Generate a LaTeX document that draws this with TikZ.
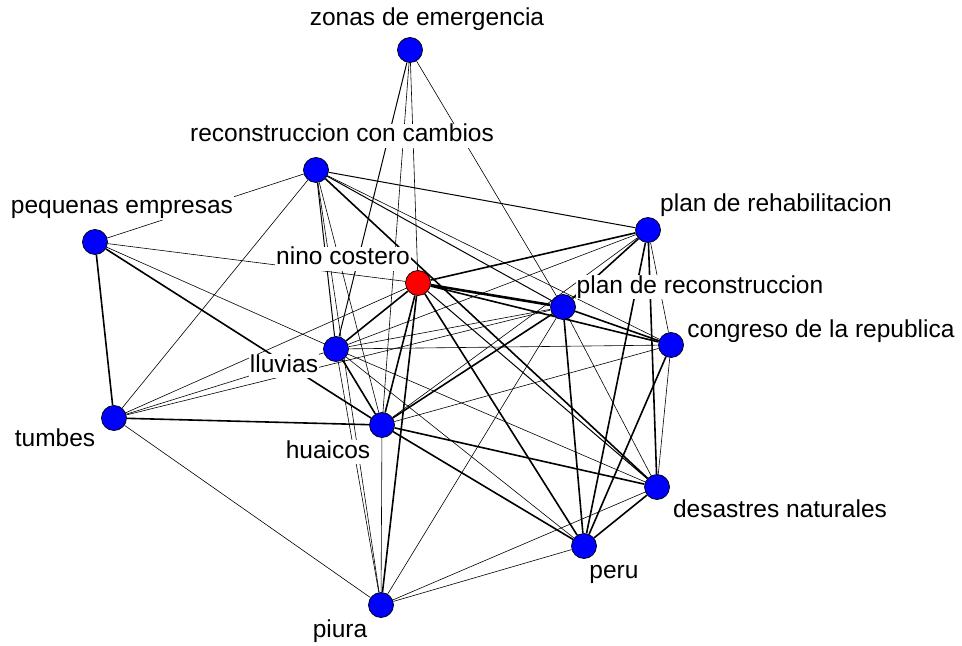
\documentclass[tikz,border=0pt]{standalone}
\usepackage{fontspec}
\setmainfont{Liberation Sans}
\pgfdeclarelayer{edges}
\pgfdeclarelayer{labels}
\pgfsetlayers{edges,labels,main}
\begin{document}
\begin{tikzpicture}[x=1bp,y=-1bp,
  vert/.style={circle,fill=blue,draw=black,line width=0.7bp,minimum size=25bp,inner sep=0pt},
  redvert/.style={vert,fill=red},
  lab/.style={fill=white,inner sep=1bp,text height=17bp,text depth=5bp,font=\fontsize{24.6}{28}\selectfont},
  wa/.style={line width=0.6bp},
  wb/.style={line width=1.0bp},
  wc/.style={line width=1.6bp},
  wd/.style={line width=2.6bp}]
\useasboundingbox (0,0) rectangle (962,646);
% vertices
\node[vert] (Z) at (410,50) {};
\node[vert] (R) at (316,170) {};
\node[vert] (E) at (95,242) {};
\node[vert] (H) at (648,230) {};
\node[redvert] (N) at (418,283) {};
\node[vert] (P) at (563,307) {};
\node[vert] (C) at (671,345) {};
\node[vert] (L) at (336,349) {};
\node[vert] (T) at (114,418) {};
\node[vert] (U) at (382,425) {};
\node[vert] (D) at (657,487) {};
\node[vert] (Pe) at (584,546) {};
\node[vert] (Pi) at (381,605) {};
% labels
\begin{pgfonlayer}{labels}
\node[lab] (lZ) at (427,20) {zonas de emergencia};
\node[lab] (lR) at (342,136) {reconstruccion con cambios};
\node[lab] (lE) at (122,208) {pequenas empresas};
\node[lab] (lH) at (776,206) {plan de rehabilitacion};
\node[lab] (lN) at (343,259) {nino costero};
\node[lab] (lP) at (700,287) {plan de reconstruccion};
\node[lab] (lC) at (821,331) {congreso de la republica};
\node[lab] (lL) at (284,366) {lluvias};
\node[lab] (lT) at (55,440) {tumbes};
\node[lab] (lU) at (328,452) {huaicos};
\node[lab] (lD) at (780,511) {desastres naturales};
\node[lab] (lPe) at (614,572) {peru};
\node[lab] (lPi) at (340,631) {piura};
\end{pgfonlayer}
% edges
\begin{pgfonlayer}{edges}
\fill[white] (0,0) rectangle (962,646);
\draw[wa] (Z) -- (N);
\draw[wb] (Z) -- (L);
\draw[wa] (Z) -- (U);
\draw[wa] (Z) -- (P);
\draw[wa] (R) -- (E);
\draw[wa] (R) -- (T);
\draw[wb] (R) -- (L);
\draw[wa] (R) -- (U);
\draw[wa] (R) -- (Pi);
\draw[wb] (R) -- (H);
\draw[wb] (R) -- (P);
\draw[wa] (R) -- (C);
\draw[wc] (R) -- (D);
\draw[wc] (E) -- (T);
\draw[wa] (E) -- (N);
\draw[wc] (E) -- (U);
\draw[wa] (E) -- (L);
\draw[wa] (T) -- (N);
\draw[wa] (T) -- (L);
\draw[wc] (T) -- (U);
\draw[wa] (T) -- (Pi);
\draw[wa] (T) -- (P);
\draw[wc] (N) -- (L);
\draw[wc] (N) -- (U);
\draw[wc] (N) -- (Pi);
\draw[wc] (N) -- (Pe);
\draw[wb] (N) -- (D);
\draw[wd] (N) -- (P);
\draw[wc] (N) -- (H);
\draw[wc] (N) -- (C);
\draw[wc] (L) -- (U);
\draw[wa] (L) -- (Pi);
\draw[wa] (L) -- (P);
\draw[wa] (L) -- (H);
\draw[wa] (L) -- (C);
\draw[wa] (L) -- (D);
\draw[wa] (L) -- (Pe);
\draw[wa] (U) -- (Pi);
\draw[wc] (U) -- (P);
\draw[wa] (U) -- (H);
\draw[wa] (U) -- (C);
\draw[wc] (U) -- (D);
\draw[wc] (U) -- (Pe);
\draw[wc] (P) -- (H);
\draw[wc] (P) -- (C);
\draw[wa] (P) -- (D);
\draw[wc] (P) -- (Pe);
\draw[wa] (P) -- (Pi);
\draw[wa] (H) -- (C);
\draw[wc] (H) -- (D);
\draw[wc] (H) -- (Pe);
\draw[wa] (C) -- (D);
\draw[wc] (C) -- (Pe);
\draw[wc] (D) -- (Pe);
\draw[wa] (D) -- (Pi);
\draw[wa] (Pe) -- (Pi);
\end{pgfonlayer}
\end{tikzpicture}
\end{document}
